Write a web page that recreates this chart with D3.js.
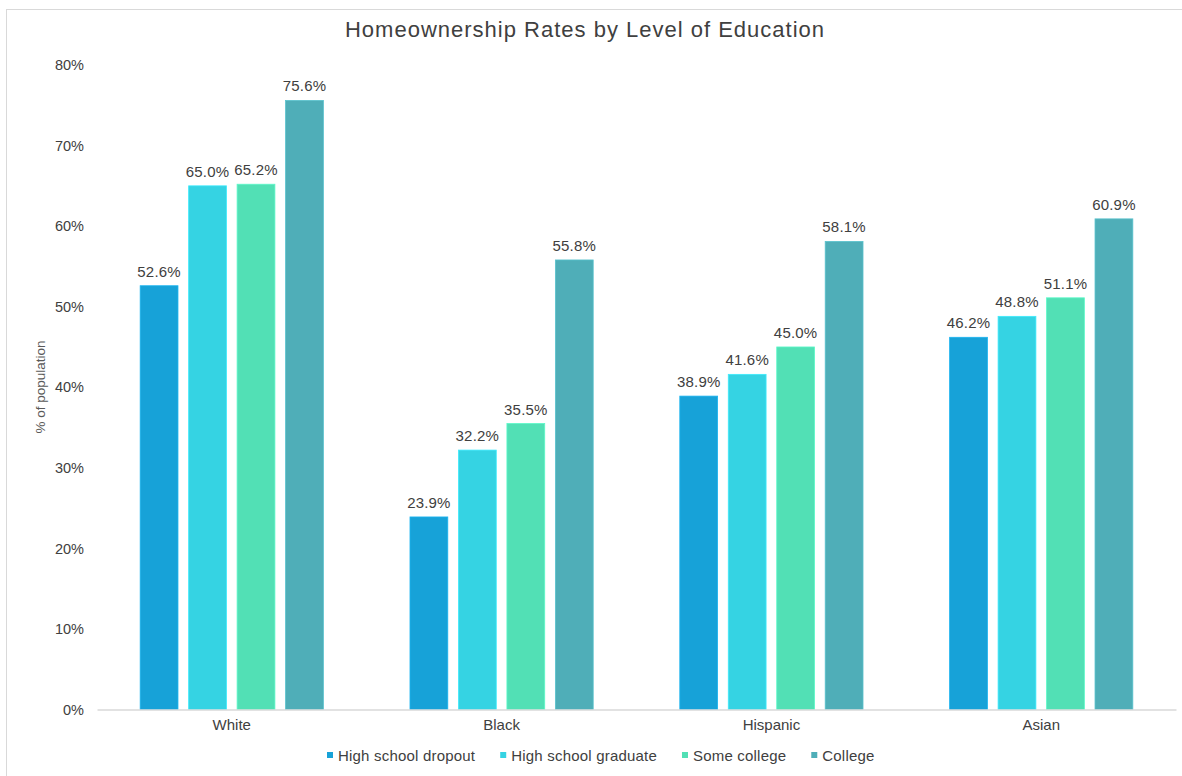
<!DOCTYPE html>
<html>
<head>
<meta charset="utf-8">
<script src="https://cdn.jsdelivr.net/npm/d3@7"></script>
<style>
  body { margin: 0; background: #fff; }
  svg { font-family: "Liberation Sans", Arial, sans-serif; }
</style>
</head>
<body>
<svg id="chart" width="1182" height="776"></svg>
<script>
// data
const groups = ["White", "Black", "Hispanic", "Asian"];
const series = ["High school dropout", "High school graduate", "Some college", "College"];
const dropout = [52.6, 23.9, 38.9, 46.2];
const graduate = [65.0, 32.2, 41.6, 48.8];
const someCollege = [65.2, 35.5, 45.0, 51.1];
const college = [75.6, 55.8, 58.1, 60.9];
const yTicks = [0, 10, 20, 30, 40, 50, 60, 70, 80];
const colors = ["#17a2d8", "#35d3e3", "#52e0b5", "#4faeb8"];

const values = [dropout, graduate, someCollege, college];
const txt = "#404040";

const svg = d3.select("#chart");
// pd = plot box
const pd = { left: 97, right: 1176, top: 65, bottom: 709.5 };

// outer frame
svg.append("rect")
  .attr("x", 6.5).attr("y", 9.5)
  .attr("width", 1190).attr("height", 800)
  .attr("fill", "none").attr("stroke", "#d9d9d9");

svg.append("text")
  .attr("x", 585).attr("y", 37)
  .attr("text-anchor", "middle")
  .attr("font-size", 22)
  .attr("letter-spacing", 1)
  .attr("fill", txt)
  .text("Homeownership Rates by Level of Education");

const x0 = d3.scaleBand().domain(groups).range([pd.left, pd.right])
  .paddingInner(0.321).paddingOuter(0.16);
const x1 = d3.scaleBand().domain(series).range([0, x0.bandwidth()])
  .paddingInner(0.22);
const y = d3.scaleLinear().domain([0, 80]).range([pd.bottom, pd.top]);

// y axis labels
const yAxis = d3.axisLeft(y).tickValues(yTicks).tickFormat(d => d + "%").tickSize(0).tickPadding(0);
const ya = svg.append("g").attr("transform", `translate(84,0)`).call(yAxis);
ya.select(".domain").remove();
ya.selectAll("text").attr("font-size", 14.5).attr("fill", txt)
  .attr("font-family", "Liberation Sans, Arial, sans-serif");

svg.append("text")
  .attr("transform", "translate(45,387) rotate(-90)")
  .attr("text-anchor", "middle")
  .attr("font-size", 13.5)
  .attr("fill", "#595959")
  .text("% of population");

// bars
const gs = svg.selectAll("g.grp").data(groups).join("g")
  .attr("class", "grp")
  .attr("transform", d => `translate(${x0(d)},0)`);

gs.each(function(g, gi) {
  const sel = d3.select(this);
  series.forEach((s, si) => {
    const v = values[si][gi];
    sel.append("rect")
      .attr("x", x1(s)).attr("y", y(v))
      .attr("width", x1.bandwidth()).attr("height", y(0) - y(v))
      .attr("fill", colors[si])
      .attr("stroke", d3.color(colors[si]).brighter(0.3))
      .attr("stroke-width", 0.8);
    sel.append("text")
      .attr("x", x1(s) + x1.bandwidth() / 2).attr("y", y(v) - 9)
      .attr("text-anchor", "middle")
      .attr("font-size", 15)
      .attr("letter-spacing", 0.2)
      .attr("fill", txt)
      .text(v.toFixed(1) + "%");
  });
});

// x axis
const xAxis = d3.axisBottom(x0).tickSize(0).tickPadding(10);
const xa = svg.append("g").attr("transform", `translate(0,${pd.bottom})`).call(xAxis);
xa.select(".domain").attr("stroke", "#d9d9d9").attr("stroke-width", 1.5);
xa.selectAll("text").attr("font-size", 15).attr("fill", txt)
  .attr("font-family", "Liberation Sans, Arial, sans-serif");

// legend, laid out left to right
let lx = 327;
series.forEach((s, i) => {
  const g = svg.append("g").attr("transform", `translate(${lx},755)`);
  g.append("rect").attr("x", 0).attr("y", -3).attr("width", 6).attr("height", 6)
    .attr("fill", colors[i]);
  const t = g.append("text").attr("x", 11).attr("y", 5.5)
    .attr("font-size", 15).attr("letter-spacing", 0.2).attr("fill", txt)
    .text(s);
  lx += 11 + t.node().getComputedTextLength() + 25;
});
</script>
</body>
</html>
